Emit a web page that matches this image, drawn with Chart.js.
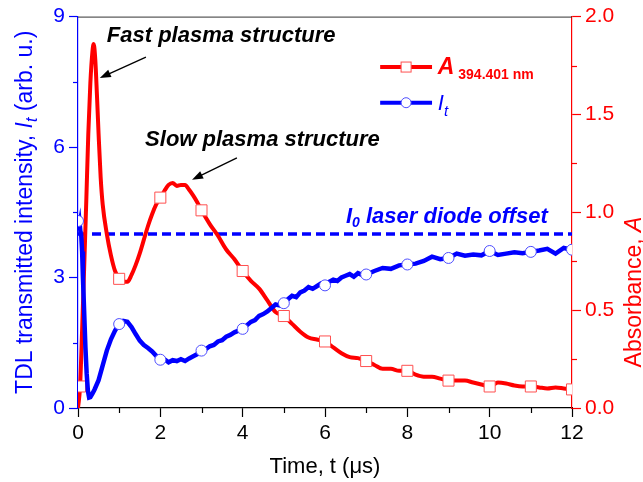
<!DOCTYPE html>
<html>
<head>
<meta charset="utf-8">
<script src="https://cdn.jsdelivr.net/npm/chart.js@4.4.1/dist/chart.umd.min.js"></script>
<style>
  html, body { margin: 0; padding: 0; background: #fff; }
  #wrap { width: 643px; height: 482px; }
</style>
</head>
<body>
<div id="wrap"><canvas id="grafica" width="643" height="482"></canvas></div>
<script>
// --- DATOS ---
// Absorbancia A (394.401 nm), eje derecho
const tiempoA = [0, 0.05, 0.1, 0.15, 0.2, 0.25, 0.3, 0.35, 0.38, 0.42, 0.46, 0.5, 0.55, 0.6, 0.7, 0.8, 0.9,
  1.0, 1.1, 1.2, 1.3, 1.4, 1.5, 1.6, 1.7, 1.8, 1.9, 2.0, 2.1, 2.2, 2.3, 2.4, 2.5, 2.6, 2.7, 2.8, 2.9,
  3.0, 3.2, 3.4, 3.6, 3.8, 4.0, 4.2, 4.4, 4.6, 4.8, 5.0, 5.2, 5.4, 5.6, 5.8, 6.0, 6.2, 6.4, 6.6, 6.8,
  7.0, 7.2, 7.4, 7.6, 7.8, 8.0, 8.2, 8.4, 8.6, 8.8, 9.0, 9.2, 9.4, 9.6, 9.8, 10.0, 10.2, 10.4, 10.6, 10.8,
  11.0, 11.2, 11.4, 11.6, 11.8, 12.0];
const absorbancia = [0.00, 0.11, 0.40, 0.72, 1.05, 1.40, 1.66, 1.82, 1.86, 1.78, 1.60, 1.40, 1.18, 1.04, 0.89, 0.78, 0.70,
  0.66, 0.645, 0.645, 0.68, 0.73, 0.79, 0.86, 0.93, 0.99, 1.04, 1.075, 1.11, 1.14, 1.15, 1.135, 1.14, 1.14, 1.115, 1.085, 1.05,
  1.01, 0.94, 0.88, 0.81, 0.76, 0.70, 0.65, 0.61, 0.55, 0.49, 0.47, 0.43, 0.39, 0.36, 0.35, 0.34, 0.31, 0.28, 0.26, 0.255,
  0.24, 0.22, 0.20, 0.20, 0.19, 0.19, 0.17, 0.16, 0.16, 0.15, 0.14, 0.14, 0.14, 0.13, 0.12, 0.11, 0.13, 0.125, 0.115, 0.11,
  0.11, 0.105, 0.10, 0.105, 0.10, 0.095];
const marcasA = [0.05, 1, 2, 3, 4, 5, 6, 7, 8, 9, 10, 11, 12];

// Intensidad transmitida It, eje izquierdo
const tiempoI = [0, 0.02, 0.04, 0.06, 0.08, 0.1, 0.12, 0.15, 0.18, 0.21, 0.24, 0.27, 0.3, 0.35, 0.4, 0.5, 0.6, 0.7, 0.8, 0.9,
  1.0, 1.1, 1.2, 1.3, 1.4, 1.5, 1.6, 1.7, 1.8, 1.9, 2.0, 2.1, 2.2, 2.3, 2.4, 2.5, 2.6, 2.7, 2.8, 2.9,
  3.0, 3.1, 3.2, 3.3, 3.4, 3.5, 3.6, 3.7, 3.8, 3.9, 4.0, 4.1, 4.2, 4.3, 4.4, 4.5, 4.6, 4.7, 4.8, 4.9,
  5.0, 5.1, 5.2, 5.3, 5.4, 5.5, 5.6, 5.7, 5.8, 5.9, 6.0, 6.1, 6.2, 6.3, 6.4, 6.5, 6.6, 6.7, 6.8, 6.9,
  7.0, 7.2, 7.4, 7.6, 7.8, 8.0, 8.2, 8.4, 8.6, 8.8, 9.0, 9.2, 9.4, 9.6, 9.8, 10.0, 10.2, 10.4, 10.6, 10.8,
  11.0, 11.2, 11.4, 11.6, 11.8, 12.0];
const intensidad = [4.30, 4.15, 4.25, 4.05, 3.95, 3.60, 3.00, 2.20, 1.40, 0.80, 0.40, 0.24, 0.25, 0.33, 0.42, 0.64, 0.98, 1.32, 1.58, 1.78,
  1.93, 2.00, 1.98, 1.86, 1.70, 1.55, 1.45, 1.38, 1.30, 1.20, 1.11, 1.12, 1.05, 1.10, 1.08, 1.12, 1.08, 1.14, 1.19, 1.24,
  1.32, 1.35, 1.42, 1.45, 1.53, 1.56, 1.64, 1.68, 1.74, 1.78, 1.82, 1.90, 1.98, 2.02, 2.12, 2.16, 2.22, 2.30, 2.38, 2.36,
  2.41, 2.50, 2.58, 2.55, 2.66, 2.70, 2.78, 2.74, 2.80, 2.86, 2.82, 2.90, 2.95, 2.92, 3.00, 3.04, 3.08, 3.02, 3.10, 3.06,
  3.07, 3.15, 3.22, 3.20, 3.28, 3.30, 3.32, 3.38, 3.48, 3.42, 3.45, 3.55, 3.50, 3.53, 3.51, 3.61, 3.52, 3.55, 3.58, 3.56,
  3.59, 3.62, 3.66, 3.55, 3.68, 3.64];
const marcasI = [0, 1, 2, 3, 4, 5, 6, 7, 8, 9, 10, 11, 12];

// Offset del diodo láser I0
const offsetI0 = 4.0;

// Ticks
const ticksX = [0, 2, 4, 6, 8, 10, 12];
const ticksXmenor = [1, 3, 5, 7, 9, 11];
const ticksY = [0, 3, 6, 9];
const ticksYmenor = [1.5, 4.5, 7.5];
const ticksY1 = [0, 0.5, 1.0, 1.5, 2.0];
const ticksY1menor = [0.25, 0.75, 1.25, 1.75];

const AZUL = '#0000ff';
const ROJO = '#ff0000';
const FUENTE = "'Liberation Sans', Arial, sans-serif";

Chart.defaults.font.family = FUENTE;

// Texto con partes (subíndices, cursivas)
function anchoRico(ctx, partes) {
    let w = 0;
    partes.forEach(p => { ctx.font = p.font; w += ctx.measureText(p.text).width; });
    return w;
}
function textoRico(ctx, x, y, partes) {
    let cx = x;
    partes.forEach(p => {
        ctx.font = p.font;
        ctx.fillStyle = p.color;
        ctx.fillText(p.text, cx, y + (p.dy || 0));
        cx += ctx.measureText(p.text).width;
    });
}

function flecha(ctx, x1, y1, x2, y2) {
    const ang = Math.atan2(y2 - y1, x2 - x1);
    const largo = 11, ancho = 4;
    ctx.save();
    ctx.strokeStyle = '#000';
    ctx.fillStyle = '#000';
    ctx.lineWidth = 1.3;
    ctx.beginPath();
    ctx.moveTo(x1, y1);
    ctx.lineTo(x2 - largo * 0.8 * Math.cos(ang), y2 - largo * 0.8 * Math.sin(ang));
    ctx.stroke();
    ctx.beginPath();
    ctx.moveTo(x2, y2);
    ctx.lineTo(x2 - largo * Math.cos(ang) + ancho * Math.sin(ang), y2 - largo * Math.sin(ang) - ancho * Math.cos(ang));
    ctx.lineTo(x2 - largo * Math.cos(ang) - ancho * Math.sin(ang), y2 - largo * Math.sin(ang) + ancho * Math.cos(ang));
    ctx.closePath();
    ctx.fill();
    ctx.restore();
}

const decoraciones = {
    id: 'decoraciones',
    afterDraw(chart) {
        const { ctx, chartArea, scales } = chart;
        const px = v => scales.x.getPixelForValue(v);
        const py = v => scales.y.getPixelForValue(v);

        ctx.save();
        // borde superior
        ctx.strokeStyle = '#333';
        ctx.lineWidth = 1;
        ctx.beginPath();
        ctx.moveTo(chartArea.left, chartArea.top + 0.5);
        ctx.lineTo(chartArea.right, chartArea.top + 0.5);
        ctx.stroke();

        // ticks menores
        ctx.lineWidth = 1.2;
        ctx.strokeStyle = '#000';
        ticksXmenor.forEach(v => {
            const x = Math.round(px(v)) + 0.5;
            ctx.beginPath(); ctx.moveTo(x, chartArea.bottom); ctx.lineTo(x, chartArea.bottom + 5); ctx.stroke();
        });
        ctx.strokeStyle = AZUL;
        ticksYmenor.forEach(v => {
            const y = Math.round(py(v)) + 0.5;
            ctx.beginPath(); ctx.moveTo(chartArea.left, y); ctx.lineTo(chartArea.left - 5, y); ctx.stroke();
        });
        ctx.strokeStyle = ROJO;
        ticksY1menor.forEach(v => {
            const y = Math.round(scales.y1.getPixelForValue(v)) + 0.5;
            ctx.beginPath(); ctx.moveTo(chartArea.right, y); ctx.lineTo(chartArea.right + 5, y); ctx.stroke();
        });

        // titulos de ejes
        ctx.textBaseline = 'alphabetic';
        const titIzq = [
            { text: 'TDL transmitted intensity, ', font: `23px ${FUENTE}`, color: AZUL },
            { text: 'I', font: `italic 23px ${FUENTE}`, color: AZUL },
            { text: 't', font: `italic 16px ${FUENTE}`, color: AZUL, dy: 5 },
            { text: ' (arb. u.)', font: `23px ${FUENTE}`, color: AZUL }
        ];
        ctx.save();
        ctx.translate(32, (chartArea.top + chartArea.bottom) / 2);
        ctx.rotate(-Math.PI / 2);
        textoRico(ctx, -anchoRico(ctx, titIzq) / 2, 0, titIzq);
        ctx.restore();

        const titDer = [
            { text: 'Absorbance, ', font: `23px ${FUENTE}`, color: ROJO },
            { text: 'A', font: `italic 23px ${FUENTE}`, color: ROJO }
        ];
        ctx.save();
        ctx.translate(641, 292);
        ctx.rotate(-Math.PI / 2);
        textoRico(ctx, -anchoRico(ctx, titDer) / 2, 0, titDer);
        ctx.restore();

        const titX = [
            { text: 'Time, t (', font: `22px ${FUENTE}`, color: '#000' },
            { text: 'μ', font: `22px ${FUENTE}`, color: '#000' },
            { text: 's)', font: `22px ${FUENTE}`, color: '#000' }
        ];
        textoRico(ctx, (chartArea.left + chartArea.right) / 2 - anchoRico(ctx, titX) / 2, 473, titX);

        // anotaciones
        const negrita = `italic bold 22px ${FUENTE}`;
        textoRico(ctx, px(0.7), py(8.41), [{ text: 'Fast plasma structure', font: negrita, color: '#000' }]);
        textoRico(ctx, px(1.63), py(6.02), [{ text: 'Slow plasma structure', font: negrita, color: '#000' }]);
        flecha(ctx, px(1.65), py(8.07), px(0.53), py(7.59));
        flecha(ctx, px(3.86), py(5.75), px(2.77), py(5.25));

        textoRico(ctx, px(6.51), py(4.25), [
            { text: 'I', font: negrita, color: AZUL },
            { text: '0', font: `italic bold 14px ${FUENTE}`, color: AZUL, dy: 4 },
            { text: ' laser diode offset', font: negrita, color: AZUL }
        ]);

        // leyenda
        const lx1 = px(7.34), lx2 = px(8.6), lxm = px(7.97);
        const ly1 = py(7.84), ly2 = py(7.02);
        ctx.lineWidth = 4;
        ctx.strokeStyle = ROJO;
        ctx.beginPath(); ctx.moveTo(lx1, ly1); ctx.lineTo(lx2, ly1); ctx.stroke();
        ctx.fillStyle = '#fff';
        ctx.fillRect(lxm - 5, ly1 - 5, 10, 10);
        ctx.lineWidth = 1;
        ctx.strokeStyle = '#ff5050';
        ctx.strokeRect(lxm - 5, ly1 - 5, 10, 10);

        ctx.lineWidth = 4;
        ctx.strokeStyle = AZUL;
        ctx.beginPath(); ctx.moveTo(lx1, ly2); ctx.lineTo(lx2, ly2); ctx.stroke();
        ctx.fillStyle = '#fff';
        ctx.beginPath(); ctx.arc(lxm, ly2, 5, 0, Math.PI * 2); ctx.fill();
        ctx.lineWidth = 1;
        ctx.strokeStyle = '#4d4dff';
        ctx.stroke();

        textoRico(ctx, px(8.74), ly1 + 7, [
            { text: 'A', font: `italic bold 23px ${FUENTE}`, color: ROJO },
            { text: ' 394.401 nm', font: `bold 14px ${FUENTE}`, color: ROJO, dy: 5 }
        ]);
        textoRico(ctx, px(8.74), ly2 + 7, [
            { text: 'I', font: `italic 22px ${FUENTE}`, color: AZUL },
            { text: 't', font: `italic 15px ${FUENTE}`, color: AZUL, dy: 6 }
        ]);
        ctx.restore();
    }
};

const ejeBase = (color, tickLen) => ({
    display: true,
    drawOnChartArea: false,
    drawTicks: true,
    tickLength: tickLen,
    color: color,
    tickColor: color,
    tickWidth: 1.2
});

new Chart(document.getElementById('grafica').getContext('2d'), {
    type: 'line',
    data: {
        datasets: [
            {
                label: 'It',
                data: tiempoI.map((t, i) => ({ x: t, y: intensidad[i] })),
                yAxisID: 'y',
                borderColor: AZUL,
                borderWidth: 4.5,
                tension: 0,
                pointStyle: 'circle',
                pointRadius: ctx => (ctx.raw && marcasI.includes(ctx.raw.x)) ? 5.5 : 0,
                pointBackgroundColor: '#fff',
                pointBorderColor: '#4d4dff',
                pointBorderWidth: 1
            },
            {
                label: 'A 394.401 nm',
                data: tiempoA.map((t, i) => ({ x: t, y: absorbancia[i] })),
                yAxisID: 'y1',
                borderColor: ROJO,
                borderWidth: 4,
                cubicInterpolationMode: 'monotone',
                pointStyle: 'rect',
                pointRadius: ctx => (ctx.raw && marcasA.includes(ctx.raw.x)) ? 7.8 : 0,
                pointBackgroundColor: '#fff',
                pointBorderColor: '#ff5050',
                pointBorderWidth: 1
            },
            {
                label: 'I0',
                data: [{ x: 0, y: offsetI0 }, { x: 12, y: offsetI0 }],
                yAxisID: 'y',
                borderColor: AZUL,
                borderWidth: 3.5,
                borderDash: [9, 5],
                pointRadius: 0
            }
        ]
    },
    options: {
        responsive: false,
        animation: false,
        devicePixelRatio: 1,
        events: [],
        layout: { padding: { top: 12, left: 0, right: 0, bottom: 0 } },
        plugins: { legend: { display: false }, tooltip: { enabled: false } },
        scales: {
            x: {
                type: 'linear',
                min: 0, max: 12,
                afterBuildTicks: s => { s.ticks = ticksX.map(v => ({ value: v })); },
                ticks: { color: '#000', font: { size: 21 }, padding: 4, maxRotation: 0 },
                grid: ejeBase('#000', 9),
                border: { display: true, color: '#000', width: 1.2 },
                afterFit: s => { s.height = 74; }
            },
            y: {
                position: 'left',
                min: 0, max: 9,
                afterBuildTicks: s => { s.ticks = ticksY.map(v => ({ value: v })); },
                ticks: { color: AZUL, font: { size: 21 }, padding: 4 },
                grid: ejeBase(AZUL, 9),
                border: { display: true, color: AZUL, width: 1.2 },
                afterFit: s => { s.width = 78; }
            },
            y1: {
                position: 'right',
                min: 0, max: 2,
                afterBuildTicks: s => { s.ticks = ticksY1.map(v => ({ value: v })); },
                ticks: { color: ROJO, font: { size: 21 }, padding: 4, callback: v => v.toFixed(1) },
                grid: ejeBase(ROJO, 9),
                border: { display: true, color: ROJO, width: 1.2 },
                afterFit: s => { s.width = 71; }
            }
        }
    },
    plugins: [decoraciones]
});
</script>
</body>
</html>
